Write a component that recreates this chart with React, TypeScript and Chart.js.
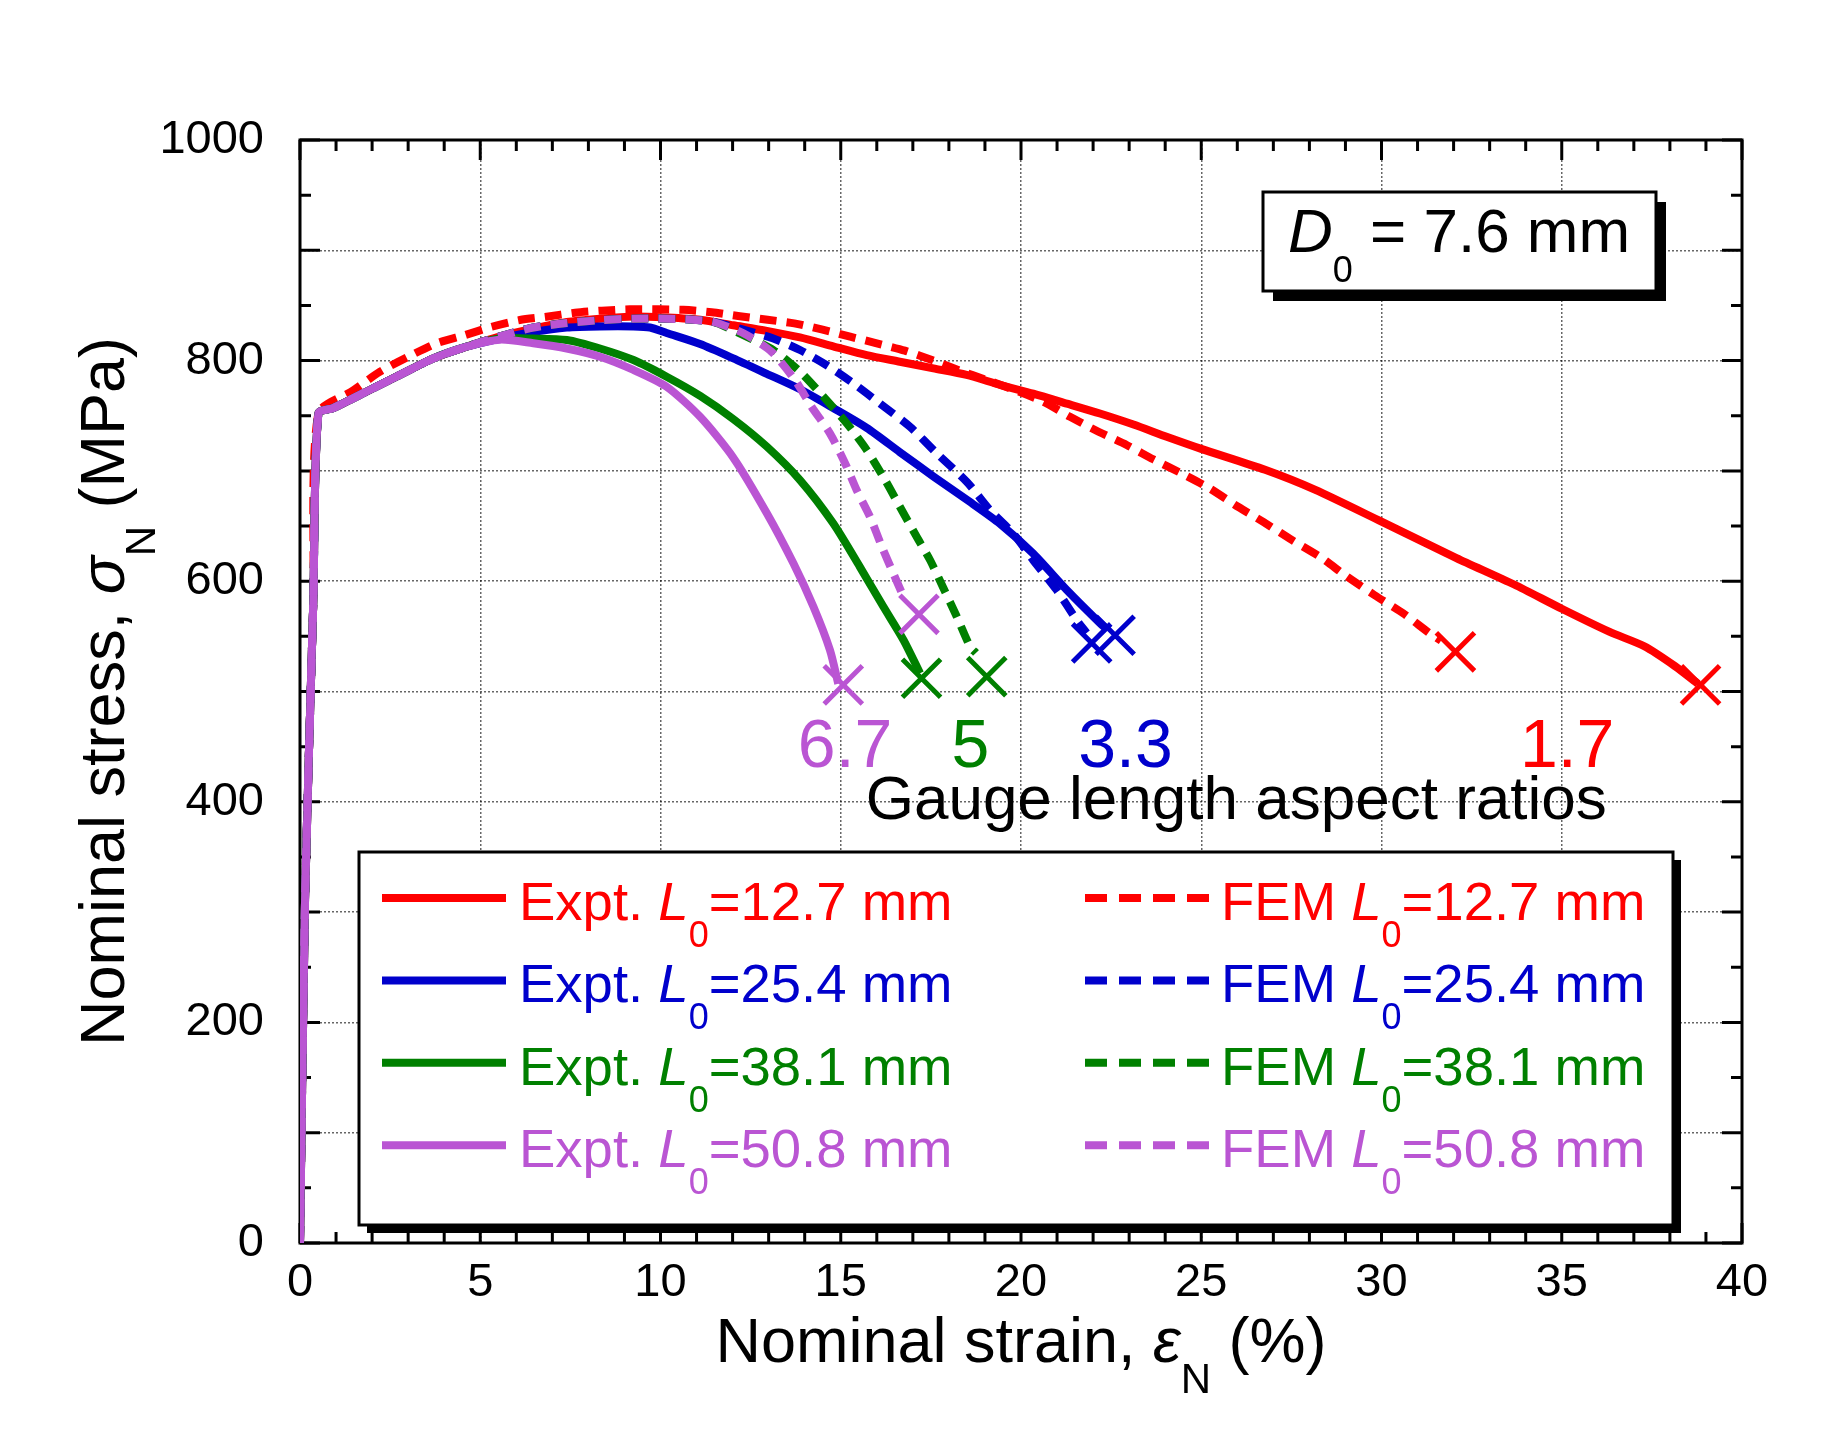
import { useEffect, useRef } from 'react'
import { Chart, registerables } from 'chart.js'

Chart.register(...registerables)

const FONT = 'Arial, "Liberation Sans", Helvetica, sans-serif'

const RED = '#ff0000'
const BLUE = '#0000cc'
const GREEN = '#008000'
const PURPLE = '#ba55d3'

// shared elastic part and early hardening (strain %, stress MPa)
const elasticX = [0, 0.14, 0.37, 0.51]
const elasticY = [0, 311, 583, 752]
const hardenX = [0.92, 1.85, 2.77, 3.7, 4.62]
const hardenY = [757, 772, 787, 802, 812.6]

// experiments
const expt127X = [5.55, 6.47, 7.4, 8.32, 9.25, 10.17, 11.1, 12.02, 12.95, 13.87, 14.79, 15.72, 16.64, 17.57, 18.49, 19.42, 20.34, 21.27, 22.19, 23.12, 24.04, 25.0, 26.77, 28.15, 30.0, 32.08, 33.68, 35.0, 36.33, 37.29, 38.14, 38.78]
const expt127Y = [822, 829, 835, 838, 840, 839, 837, 832, 827, 821, 813, 805, 799, 793, 787, 778, 770, 761, 752, 742, 731, 720, 701, 683, 654, 621, 597, 575, 554, 541, 523, 507]
const expt254X = [5.55, 6.47, 7.4, 8.32, 9.25, 9.71, 10.17, 11.1, 12.02, 12.95, 13.87, 14.79, 15.72, 16.64, 17.57, 18.49, 19.42, 20.34, 21.27, 22.19, 22.4]
const expt254Y = [820, 826, 830, 831, 831, 830, 825, 815, 802, 788, 774, 757, 739, 717, 695, 674, 652, 625, 592, 562, 556]
const expt381X = [5.55, 6.47, 7.4, 8.32, 9.25, 10.17, 11.1, 12.02, 12.95, 13.87, 14.79, 15.53, 16.18, 16.74, 17.2]
const expt381Y = [820, 820, 818.7, 811, 800.5, 785.4, 768, 747, 722, 691.7, 652.5, 613, 577, 546.7, 516.5]
const expt508X = [5.55, 6.47, 7.4, 8.32, 9.25, 10.17, 11.1, 12.02, 12.95, 13.69, 14.24, 14.7, 14.93]
const expt508Y = [819, 815.7, 811, 803.5, 791.5, 776.3, 749, 712, 661.6, 616, 577, 537.6, 507]

// FEM
const femCommonX = [5.55, 6.47, 7.4, 8.32, 9.25, 10.17, 10.9, 11.47]
const femCommonY = [822, 830, 834, 836.6, 838, 838, 837, 835]
const fem127X = [1.48, 2.22, 3.0, 3.79, 4.58, 5.32, 6.1, 6.84, 7.63, 8.37, 9.15, 9.94, 10.63, 11.42, 12.2, 12.97, 13.71, 14.47, 15.26, 16.0, 16.78, 17.57, 18.3, 19.05, 19.83, 20.62, 21.36, 22.15, 22.93, 23.67, 24.54, 25.23, 26.02, 26.71, 27.51, 28.31, 29.02, 29.8, 30.6, 31.34, 31.65]
const fem127Y = [773, 790, 803.5, 815.7, 823.2, 830.7, 836.8, 839.8, 843.4, 845.3, 846.5, 846.5, 846, 843.8, 840.2, 837, 833.8, 828.3, 821.7, 815.7, 809, 800, 791, 782.4, 773.3, 762.7, 749, 735.5, 723.5, 710.5, 696.3, 684.2, 667.5, 654, 637.4, 621.7, 604.7, 587.5, 570.9, 552.7, 546]
const fem254X = [12.2, 13.13, 13.87, 14.6, 15.35, 16.09, 16.92, 17.66, 18.5, 19.14, 19.78, 20.34, 20.99, 21.54, 21.82]
const fem254Y = [829, 820, 809.6, 796, 779.4, 761, 740, 716, 690, 664.5, 643.4, 619, 592, 565, 553]
const fem381X = [12.3, 13.13, 13.87, 14.52, 15.17, 15.72, 16.23, 16.64, 17.11, 17.48, 17.85, 18.22, 18.59, 18.75]
const fem381Y = [823, 809.6, 790, 767.3, 743, 719, 691.7, 667.5, 640, 619, 593.6, 567.8, 540.6, 535]
const fem508X = [12.3, 13.08, 13.73, 14.19, 14.7, 15.12, 15.44, 15.81, 16.14, 16.46, 16.74]
const fem508Y = [824.8, 808, 782.4, 758.2, 734, 707, 682.7, 658.5, 631.3, 607, 586]

// fracture marks: expt 12.7, 25.4, 38.1, 50.8 then FEM 12.7, 25.4, 38.1, 50.8
const failX = [38.85, 22.61, 17.24, 15.07, 32.05, 21.96, 19.05, 17.17]
const failY = [506, 551, 512, 506, 536, 544, 513.5, 570]

const gaugeLengths = ['12.7', '25.4', '38.1', '50.8']
const seriesColors = [RED, BLUE, GREEN, PURPLE]

// aspect ratio labels (data coords of text baseline centre)
const ratioLabels = ['6.7', '5', '3.3', '1.7']
const ratioColors = [PURPLE, GREEN, BLUE, RED]
const ratioX = [15.12, 18.6, 22.9, 35.15]
const ratioY = 432
const ratioTitle = 'Gauge length aspect ratios'
const ratioTitleX = 25.97
const ratioTitleY = 384

const zip = (xs: number[], ys: number[]) => xs.map((x, i) => ({ x, y: ys[i] }))

type Run = { t: string; it?: boolean; sub?: boolean }

function runFont(r: Run, size: number, subSize: number) {
  return `${r.it ? 'italic ' : ''}${r.sub ? subSize : size}px ${FONT}`
}

function runsWidth(ctx: CanvasRenderingContext2D, runs: Run[], size: number, subSize: number) {
  let w = 0
  for (const r of runs) {
    ctx.font = runFont(r, size, subSize)
    w += ctx.measureText(r.t).width
  }
  return w
}

function drawRuns(ctx: CanvasRenderingContext2D, runs: Run[], x: number, y: number, size: number, subSize: number, subDrop: number, color: string, align: 'left' | 'center' = 'left') {
  ctx.save()
  ctx.fillStyle = color
  ctx.textBaseline = 'alphabetic'
  ctx.textAlign = 'left'
  let cx = align === 'center' ? x - runsWidth(ctx, runs, size, subSize) / 2 : x
  for (const r of runs) {
    ctx.font = runFont(r, size, subSize)
    ctx.fillText(r.t, cx, r.sub ? y + subDrop : y)
    cx += ctx.measureText(r.t).width
  }
  ctx.restore()
}

function shadowBox(ctx: CanvasRenderingContext2D, l: number, t: number, r: number, b: number, off: number) {
  ctx.save()
  ctx.fillStyle = '#000'
  ctx.fillRect(l + off, t + off, r - l, b - t)
  ctx.fillStyle = '#fff'
  ctx.fillRect(l, t, r - l, b - t)
  ctx.lineWidth = 3
  ctx.strokeStyle = '#000'
  ctx.strokeRect(l, t, r - l, b - t)
  ctx.restore()
}

const decorPlugin = {
  id: 'decor',
  beforeDatasetsDraw(chart: any) {
    const { ctx, chartArea: ca, scales } = chart
    const xs = scales.x
    const ys = scales.y
    ctx.save()
    ctx.strokeStyle = '#000'
    ctx.lineWidth = 3
    ctx.beginPath()
    for (let v = 0; v <= 40; v += 1) {
      const px = xs.getPixelForValue(v)
      const len = v % 5 === 0 ? 20 : 11
      ctx.moveTo(px, ca.bottom); ctx.lineTo(px, ca.bottom - len)
      ctx.moveTo(px, ca.top); ctx.lineTo(px, ca.top + len)
    }
    for (let v = 0; v <= 1000; v += 50) {
      const py = ys.getPixelForValue(v)
      const len = v % 100 === 0 ? 20 : 11
      ctx.moveTo(ca.left, py); ctx.lineTo(ca.left + len, py)
      ctx.moveTo(ca.right, py); ctx.lineTo(ca.right - len, py)
    }
    ctx.stroke()
    ctx.strokeRect(ca.left, ca.top, ca.right - ca.left, ca.bottom - ca.top)
    ctx.restore()
  },
  afterDatasetsDraw(chart: any) {
    const { ctx, chartArea: ca, scales } = chart
    const xs = scales.x
    const ys = scales.y

    // D0 box
    shadowBox(ctx, 1263, 192, 1656, 291, 10)
    drawRuns(ctx, [{ t: 'D', it: true }, { t: '0', sub: true }, { t: ' = 7.6 mm' }], 1288, 252, 62, 36, 30, '#000')

    // aspect ratio labels
    ratioLabels.forEach((lab, i) => {
      drawRuns(ctx, [{ t: lab }], xs.getPixelForValue(ratioX[i]), ys.getPixelForValue(ratioY), 68, 40, 0, ratioColors[i], 'center')
    })
    drawRuns(ctx, [{ t: ratioTitle }], xs.getPixelForValue(ratioTitleX), ys.getPixelForValue(ratioTitleY), 62, 40, 0, '#000', 'center')

    // legend
    shadowBox(ctx, 359, 852, 1673, 1225, 8)
    gaugeLengths.forEach((g, i) => {
      const y = 898 + i * 82.4
      const col = seriesColors[i]
      ctx.save()
      ctx.strokeStyle = col
      ctx.lineWidth = 8
      ctx.beginPath(); ctx.moveTo(382, y); ctx.lineTo(506, y); ctx.stroke()
      ctx.setLineDash([22, 12])
      ctx.beginPath(); ctx.moveTo(1085, y); ctx.lineTo(1209, y); ctx.stroke()
      ctx.restore()
      drawRuns(ctx, [{ t: 'Expt. ' }, { t: 'L', it: true }, { t: '0', sub: true }, { t: `=${g} mm` }], 519, y + 22, 54.5, 36, 27, col)
      drawRuns(ctx, [{ t: 'FEM ' }, { t: 'L', it: true }, { t: '0', sub: true }, { t: `=${g} mm` }], 1221, y + 22, 54.5, 36, 27, col)
    })

    // axis titles
    const cx = (ca.left + ca.right) / 2
    drawRuns(ctx, [{ t: 'Nominal strain, ' }, { t: 'ε', it: true }, { t: 'N', sub: true }, { t: ' (%)' }], cx, 1362, 63, 42, 31, '#000', 'center')
    ctx.save()
    ctx.translate(124, (ca.top + ca.bottom) / 2)
    ctx.rotate(-Math.PI / 2)
    drawRuns(ctx, [{ t: 'Nominal stress, ' }, { t: 'σ', it: true }, { t: 'N', sub: true }, { t: ' (MPa)' }], 0, 0, 63, 42, 31, '#000', 'center')
    ctx.restore()
  },
}

function line(label: string, xs: number[], ys: number[], color: string, dashed: boolean, order: number) {
  return {
    label,
    data: zip(xs, ys),
    borderColor: color,
    backgroundColor: color,
    borderWidth: 8,
    borderDash: dashed ? [17, 10] : [],
    borderCapStyle: 'butt',
    borderJoinStyle: 'round',
    showLine: true,
    pointRadius: 0,
    fill: false,
    tension: 0.25,
    order,
  }
}

export default function App() {
  const canvasRef = useRef<HTMLCanvasElement>(null)
  const chartRef = useRef<Chart | null>(null)

  useEffect(() => {
    if (!canvasRef.current) return
    chartRef.current?.destroy()

    const exptX = (x: number[]) => [...elasticX, ...hardenX, ...x]
    const exptY = (y: number[]) => [...elasticY, ...hardenY, ...y]
    const femX = (x: number[]) => [...elasticX, ...hardenX, ...femCommonX, ...x]
    const femY = (y: number[]) => [...elasticY, ...hardenY, ...femCommonY, ...y]

    const datasets: any[] = [
      line('Expt. L0=12.7 mm', exptX(expt127X), exptY(expt127Y), RED, false, 8),
      line('Expt. L0=25.4 mm', exptX(expt254X), exptY(expt254Y), BLUE, false, 6),
      line('Expt. L0=38.1 mm', exptX(expt381X), exptY(expt381Y), GREEN, false, 4),
      line('Expt. L0=50.8 mm', exptX(expt508X), exptY(expt508Y), PURPLE, false, 2),
      line('FEM L0=12.7 mm', [...elasticX, ...fem127X], [...elasticY, ...fem127Y], RED, true, 7),
      line('FEM L0=25.4 mm', femX(fem254X), femY(fem254Y), BLUE, true, 5),
      line('FEM L0=38.1 mm', femX(fem381X), femY(fem381Y), GREEN, true, 3),
      line('FEM L0=50.8 mm', femX(fem508X), femY(fem508Y), PURPLE, true, 1),
      ...failX.map((x, i) => ({
        label: `fracture ${i}`,
        data: [{ x, y: failY[i] }],
        showLine: false,
        pointStyle: 'crossRot',
        pointRadius: 27,
        pointBorderWidth: 5,
        pointBorderColor: seriesColors[i % 4],
        pointBackgroundColor: seriesColors[i % 4],
        order: 0,
      })),
    ]

    chartRef.current = new Chart(canvasRef.current, {
      type: 'scatter',
      data: { datasets },
      options: {
        responsive: false,
        animation: false,
        events: [],
        layout: { padding: { top: 140, right: 94, left: 0, bottom: 0 } },
        plugins: { legend: { display: false }, tooltip: { enabled: false } },
        scales: {
          x: {
            type: 'linear',
            min: 0,
            max: 40,
            ticks: { stepSize: 5, padding: 12, color: '#000', autoSkip: false, maxRotation: 0, font: { size: 47, family: FONT } },
            grid: { color: 'rgba(0,0,0,0.6)', lineWidth: 1.5, drawTicks: false },
            border: { display: false, dash: [2, 2] },
            afterFit: (s: any) => { s.height = 187 },
          },
          y: {
            type: 'linear',
            min: 0,
            max: 1000,
            ticks: {
              stepSize: 100,
              padding: 36,
              color: '#000',
              autoSkip: false,
              font: { size: 47, family: FONT },
              callback: (v: any) => (Number(v) % 200 === 0 ? String(v) : ''),
            },
            grid: { color: 'rgba(0,0,0,0.6)', lineWidth: 1.5, drawTicks: false },
            border: { display: false, dash: [2, 2] },
            afterFit: (s: any) => { s.width = 300 },
          },
        },
      } as any,
      plugins: [decorPlugin],
    })

    return () => chartRef.current?.destroy()
  }, [])

  return (
    <div style={{ position: 'absolute', left: 0, top: 0, width: 1836, height: 1430, background: '#fff' }}>
      <canvas ref={canvasRef} width={1836} height={1430} style={{ display: 'block' }} />
    </div>
  )
}
